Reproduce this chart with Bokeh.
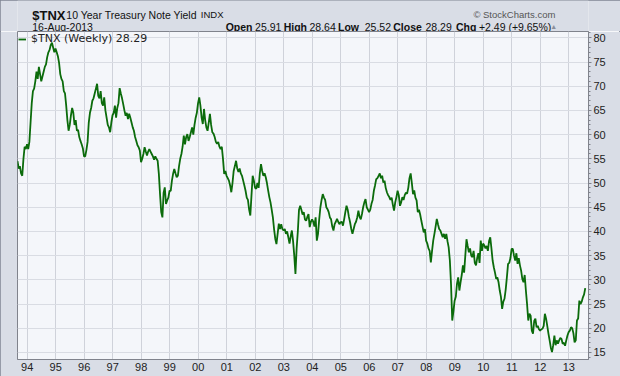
from bokeh.plotting import figure
from bokeh.layouts import column
from bokeh.models import Range1d, FixedTicker, Legend, LegendItem, InlineStyleSheet
from bokeh.embed import file_html
from bokeh.resources import INLINE
from bokeh.core.properties import value

y1993 = [54.5, 53.0, 53.5, 52.0, 51.5, 55.0, 57.5, 57.0, 58.0]
y1994 = [57.0, 58.5, 62.5, 66.5, 69.0, 69.5, 71.0, 73.0, 71.5, 74.0, 72.5, 71.0,
         72.0, 73.0, 74.0, 74.5, 76.0, 77.0, 77.5, 78.5, 79.0, 78.0, 77.0, 77.8]
y1995 = [77.0, 76.2, 74.8, 72.5, 71.5, 71.0, 69.0, 68.5, 66.0, 63.0, 60.8, 62.0,
         64.0, 65.5, 64.5, 62.0, 63.0, 60.8, 61.0, 59.5, 58.7, 58.0, 57.2, 55.5]
y1996 = [55.5, 56.8, 58.5, 62.5, 64.5, 65.5, 67.0, 67.5, 68.5, 69.5, 70.5, 68.0,
         67.5, 69.0, 66.5, 66.0, 67.7, 65.0, 63.5, 62.0, 61.5, 60.5, 62.5, 64.0]
y1997 = [64.5, 66.0, 63.5, 65.5, 66.5, 69.6, 68.5, 67.5, 66.3, 65.0, 63.9, 64.5,
         63.2, 64.3, 63.5, 62.5, 61.5, 60.8, 59.5, 58.7, 57.8, 57.4, 56.7, 54.3]
y1998 = [55.0, 56.0, 57.4, 56.5, 55.7, 56.5, 57.0, 56.5, 56.0, 55.5, 54.8, 55.5,
         55.0, 54.6, 51.9, 47.7, 44.0, 42.9, 48.0, 49.1, 45.7, 46.4, 47.0, 48.4]
y1999 = [48.4, 50.5, 51.9, 52.9, 52.0, 51.2, 51.5, 53.5, 55.0, 56.0, 57.5, 59.8,
         58.0, 59.5, 60.1, 58.7, 59.5, 60.5, 61.5, 60.0, 62.0, 63.5, 64.5, 66.5]
y2000 = [67.7, 66.0, 63.5, 62.2, 65.3, 63.0, 61.5, 60.8, 62.5, 64.3, 62.0, 60.5,
         60.2, 59.5, 58.5, 58.1, 58.5, 57.5, 57.0, 57.5, 55.0, 51.9, 52.5, 51.5]
y2001 = [51.0, 50.5, 49.5, 48.1, 50.0, 52.5, 53.5, 54.6, 53.0, 52.3, 53.0, 52.0,
         51.5, 50.5, 49.5, 48.4, 47.0, 46.5, 44.5, 43.3, 47.5, 51.5, 50.5, 49.0]
y2002 = [48.8, 50.0, 49.0, 52.0, 53.9, 52.5, 51.5, 52.0, 51.2, 50.0, 48.5, 47.1,
         46.0, 44.5, 42.9, 40.5, 38.5, 37.4, 39.5, 41.6, 40.5, 41.5, 40.5, 40.2]
y2003 = [40.5, 39.5, 40.0, 38.8, 37.5, 39.0, 40.2, 38.0, 35.0, 31.2, 36.5, 40.0,
         44.5, 45.3, 44.5, 43.5, 44.0, 42.5, 42.2, 43.0, 43.6, 40.9, 42.0, 42.5]
y2004 = [42.0, 41.0, 42.9, 38.1, 39.5, 42.5, 45.0, 46.5, 47.7, 47.0, 46.5, 45.0,
         44.6, 44.0, 42.9, 42.5, 41.0, 40.2, 41.5, 42.0, 42.6, 42.0, 41.5, 41.9]
y2005 = [42.0, 41.2, 42.5, 44.0, 45.3, 44.5, 43.0, 41.9, 40.5, 39.5, 40.5, 41.5,
         42.0, 42.9, 44.3, 43.0, 42.5, 43.6, 45.0, 46.0, 46.7, 45.0, 44.5, 44.0]
y2006 = [44.5, 45.7, 46.5, 48.4, 49.5, 50.8, 51.0, 51.5, 52.0, 51.0, 51.5, 50.1,
         50.5, 49.0, 48.1, 47.5, 47.1, 46.5, 47.0, 45.5, 44.3, 46.0, 47.1, 48.4]
y2007 = [47.5, 45.3, 46.0, 47.1, 46.5, 47.5, 48.0, 47.8, 49.0, 51.0, 52.0, 50.0,
         47.7, 48.5, 47.0, 46.4, 44.0, 44.5, 43.5, 42.2, 41.0, 39.8, 40.5, 38.1]
y2008 = [37.5, 36.5, 36.0, 33.6, 36.0, 38.1, 39.5, 41.0, 42.6, 41.5, 40.5, 40.2,
         39.5, 38.8, 39.5, 38.5, 39.5, 38.0, 36.7, 34.0, 29.0, 21.6, 23.5, 25.7]
y2009 = [26.5, 29.2, 30.5, 27.8, 29.5, 31.0, 33.0, 31.5, 35.0, 38.4, 37.0, 35.7,
         36.5, 35.0, 34.7, 36.0, 33.5, 33.0, 34.5, 35.5, 33.5, 38.1, 36.0, 37.5]
y2010 = [37.1, 36.5, 37.0, 36.0, 38.0, 38.8, 36.5, 34.0, 32.6, 31.5, 30.2, 30.5,
         29.5, 27.8, 26.5, 24.0, 25.5, 26.1, 28.0, 30.5, 33.3, 33.5, 34.5, 36.4]
y2011 = [36.4, 35.0, 34.0, 35.5, 33.3, 34.5, 33.0, 31.9, 30.2, 29.5, 31.0, 27.8,
         25.0, 21.6, 23.0, 22.6, 19.5, 18.9, 21.5, 22.0, 20.2, 20.5, 19.8, 19.5]
y2012 = [19.8, 19.9, 20.5, 23.0, 22.0, 20.5, 18.9, 17.5, 16.0, 15.1, 16.5, 18.5,
         16.5, 17.5, 16.8, 17.5, 18.0, 17.8, 16.8, 17.0, 16.4, 17.5, 18.5, 19.2]
y2013 = [19.5, 20.2, 20.0, 19.0, 17.1, 17.5, 21.6, 22.0, 25.7, 25.0, 25.5, 26.4,
         27.0, 28.29]

year_ticks = list(range(1994, 2014))
year_labels = ["94", "95", "96", "97", "98", "99", "00", "01", "02", "03",
               "04", "05", "06", "07", "08", "09", "10", "11", "12", "13"]
y_ticks = [15, 20, 25, 30, 35, 40, 45, 50, 55, 60, 65, 70, 75, 80]

# header texts
quote_names = ["Open", "High", "Low", "Close", "Chg"]
quote_values = ["25.91", "28.64", "25.52", "28.29", "+2.49 (+9.65%)"]

values = (y1993 + y1994 + y1995 + y1996 + y1997 + y1998 + y1999 + y2000 + y2001 +
          y2002 + y2003 + y2004 + y2005 + y2006 + y2007 + y2008 + y2009 + y2010 +
          y2011 + y2012 + y2013)
start = 1993.66
xs = [start + i / 24 for i in range(len(values))]

BG = "#d9dde6"
HEAD_H = 31

# ---------------- header strip ----------------
h = figure(width=620, height=HEAD_H, output_backend="svg", toolbar_location=None,
           title=None,
           x_range=Range1d(0, 620), y_range=Range1d(HEAD_H, 0),
           x_axis_type=None, y_axis_type=None,
           min_border=0, min_border_left=0, min_border_right=0,
           min_border_top=0, min_border_bottom=0)
h.background_fill_color = BG
h.border_fill_color = BG
h.outline_line_color = None
h.grid.visible = False


def htext(xp, yp, txt, size, bold=False, color="#111111", align="left",
          font="Liberation Sans"):
    h.text(x=xp, y=yp, text=txt, text_font=value(font), text_font_size=size,
           text_font_style="bold" if bold else "normal", text_color=color,
           text_align=align, text_baseline="alphabetic")


htext([16], [14.5], ["$TNX"], "13px", bold=True)
htext([53], [14], ["10 Year Treasury Note Yield"], "10.5px")
htext([199], [14], ["INDX"], "9.5px")
htext([584], [14], ["\u00a9 StockCharts.com"], "9.5px", color="#555555", align="right")
htext([16], [26], ["16-Aug-2013"], "10.5px")
htext([226, 289, 348, 408, 476], [26] * 5, quote_names, "10.5px", bold=True)
htext([258, 317, 377, 443, 501], [26] * 5, quote_values, "10.5px")
htext([586], [25.5], ["\u25b2"], "7px", color="#8a8f9a", align="right")

# ---------------- main chart ----------------
p = figure(width=620, height=376 - HEAD_H, output_backend="svg", toolbar_location=None,
           x_range=Range1d(1993.66, 2013.69), y_range=Range1d(13.55, 81.3),
           y_axis_location="right",
           min_border_left=17, min_border_right=32, min_border_top=0, min_border_bottom=17)

p.background_fill_color = "#f4f6fa"
p.border_fill_color = BG
p.outline_line_color = "#80838c"
p.outline_line_width = 1

p.xaxis.ticker = FixedTicker(ticks=year_ticks)
p.xaxis.major_label_overrides = {t: lab for t, lab in zip(year_ticks, year_labels)}
p.xaxis.major_tick_out = 0
p.xaxis.major_tick_in = 0
p.xaxis.minor_tick_out = 0
p.xaxis.minor_tick_in = 0
p.xaxis.major_label_standoff = 3
p.xaxis.axis_line_color = "#80838c"

p.yaxis.ticker = FixedTicker(ticks=y_ticks, minor_ticks=list(range(14, 82)))
p.yaxis.major_tick_out = 3
p.yaxis.major_tick_in = 0
p.yaxis.minor_tick_out = 2
p.yaxis.minor_tick_in = 0
p.yaxis.major_label_standoff = 2
p.yaxis.axis_line_color = "#80838c"
p.yaxis.major_tick_line_color = "#80838c"
p.yaxis.minor_tick_line_color = "#80838c"

for ax in (p.xaxis[0], p.yaxis[0]):
    ax.major_label_text_font = "Liberation Sans"
    ax.major_label_text_font_size = "11px"
    ax.major_label_text_color = "#222222"

p.xgrid.grid_line_color = "#cfd2da"
p.ygrid.grid_line_color = "#d9dce3"

r = p.line(xs, values, line_color="#0b6b0b", line_width=1.8)

legend = Legend(items=[LegendItem(label=value("$TNX (Weekly) 28.29"), renderers=[r])],
                location="top_left", margin=0, padding=1, spacing=0,
                glyph_width=8, glyph_height=10, label_height=10, label_standoff=5,
                label_text_font="DejaVu Sans", label_text_font_size="11px",
                label_text_color="#222222",
                background_fill_alpha=0, border_line_alpha=0)
p.add_layout(legend)

page = column(h, p, spacing=0)
page.stylesheets = [InlineStyleSheet(css=":host { outline: 1px solid #7f8593; outline-offset: -1px; }")]

open("out.html", "w").write(file_html(page, INLINE))
